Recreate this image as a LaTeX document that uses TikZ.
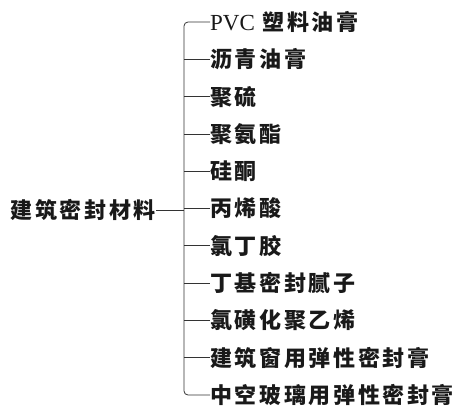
\documentclass[tikz,border=0pt]{standalone}
\usepackage{fontspec}
\newfontfamily\cjk[LetterSpace=12]{Noto Sans CJK SC}
\newfontfamily\latinserif{Liberation Serif}
\begin{document}
\begin{tikzpicture}[x=1pt,y=-1pt,
  lbl/.style={font=\cjk\bfseries\fontsize{22}{22}\selectfont, inner sep=0pt, text=black!90},
  leaf/.style={lbl, anchor=west},
  conn/.style={line width=0.8pt, draw=black!80}]
\useasboundingbox (0,0) rectangle (457,410);
\node[lbl, anchor=east] (root) at (156,210) {建筑密封材料};
\coordinate (tr) at (184,210);
\foreach \i/\t in {1/{{\latinserif\mdseries\fontsize{23}{23}\selectfont PVC} 塑料油膏},2/沥青油膏,3/聚硫,4/聚氨酯,5/硅酮,6/丙烯酸,7/氯丁胶,8/丁基密封腻子,9/氯磺化聚乙烯,10/建筑窗用弹性密封膏,11/中空玻璃用弹性密封膏}{
  \node[leaf] (l\i) at (210,{22+(\i-1)*37.3}) {\t};
}
\draw[conn] (root.east) -- (tr);
\draw[conn, rounded corners=4pt] (l1.west) -| (tr) |- (l11.west);
\foreach \i in {2,...,10}{
  \draw[conn] (l\i.west -| tr) -- (l\i.west);
}
\end{tikzpicture}
\end{document}
